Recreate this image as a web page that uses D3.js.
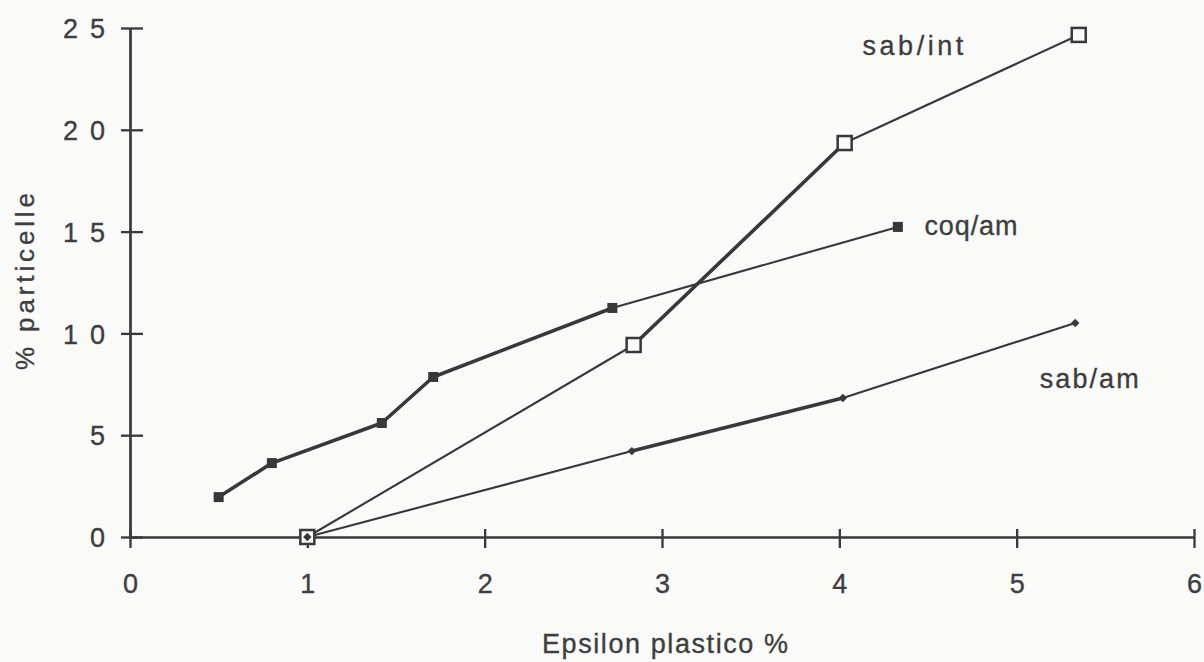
<!DOCTYPE html>
<html>
<head>
<meta charset="utf-8">
<script src="https://cdn.jsdelivr.net/npm/d3@7/dist/d3.min.js"></script>
<style>
  html, body { margin: 0; padding: 0; background: #fafaf8; }
  svg { display: block; }
  text { font-family: "Liberation Sans", Arial, Helvetica, sans-serif; fill: #3e3e3e; stroke: #3e3e3e; stroke-width: 0.35px; }
</style>
</head>
<body>
<svg id="chart" width="1204" height="662"></svg>
<script>
// ---- data ----
const xTicks = [0, 1, 2, 3, 4, 5, 6];
const yTicks = [0, 5, 10, 15, 20, 25];

const sabIntX = [1.0, 2.84, 4.03, 5.35];
const sabIntY = [0.0, 9.43, 19.35, 24.66];

const coqAmX = [0.50, 0.80, 1.42, 1.71, 2.72, 4.33];
const coqAmY = [1.96, 3.63, 5.60, 7.86, 11.25, 15.23];

const sabAmX = [1.0, 2.83, 4.02, 5.33];
const sabAmY = [0.0, 4.22, 6.83, 10.51];

const seriesNames = ["sab/int", "coq/am", "sab/am"];
const xTitle = "Epsilon plastico %";
const yTitle = "% particelle";

// ---- styles (kept apart from data) ----
const ink = "#383838";
const bg = "#fafaf8";
const thin = 2.1, thick = 3.6;
const fontPx = 27;
const styles = {
  "sab/int": { widths: [thin, thick, thin], marker: "open", label: { x: 4.13, y: 23.67, len: 101 } },
  "coq/am":  { widths: [thick, thick, thick, thick, thin], marker: "filled", label: { x: 4.48, y: 14.83, len: 93 } },
  "sab/am":  { widths: [thin, thick, thin], marker: "diamond", label: { x: 5.13, y: 7.32, len: 99 } }
};

const series = [
  { name: seriesNames[0], xs: sabIntX, ys: sabIntY },
  { name: seriesNames[1], xs: coqAmX, ys: coqAmY },
  { name: seriesNames[2], xs: sabAmX, ys: sabAmY }
];

// ---- scales ----
const svg = d3.select("#chart");
svg.append("rect").attr("width", 1204).attr("height", 662).attr("fill", bg);

const x = d3.scaleLinear().domain([0, 6]).range([130, 1194]);
const y = d3.scaleLinear().domain([0, 25]).range([537, 28]);

// ---- axes ----
const gx = svg.append("g")
  .attr("transform", `translate(0,${y(0)})`)
  .call(d3.axisBottom(x).tickValues(xTicks).tickSizeOuter(0).tickFormat(d3.format("d")));
gx.attr("font-size", null).attr("font-family", null);
gx.select(".domain").attr("stroke", ink).attr("stroke-width", 2.7);
gx.selectAll(".tick line").attr("stroke", ink).attr("stroke-width", 2.3).attr("y1", -8).attr("y2", 11);
gx.selectAll(".tick text")
  .attr("y", 37).attr("dy", "0.71em")
  .style("font-size", fontPx + "px").attr("fill", "#3e3e3e");

const gy = svg.append("g")
  .attr("transform", `translate(${x(0)},0)`)
  .call(d3.axisLeft(y).tickValues(yTicks).tickSizeOuter(0).tickFormat(d3.format("d")));
gy.attr("font-size", null).attr("font-family", null);
gy.select(".domain").attr("stroke", ink).attr("stroke-width", 2.7);
gy.selectAll(".tick line").attr("stroke", ink).attr("stroke-width", 2.3).attr("x1", -9).attr("x2", 13);
gy.selectAll(".tick text")
  .attr("x", -25).attr("dy", "0.36em")
  .style("font-size", fontPx + "px").attr("fill", "#3e3e3e")
  .each(function(d) {
    const s = String(d);
    if (s.length > 1) d3.select(this).attr("textLength", 42).attr("lengthAdjust", "spacing");
  });

// axis titles
svg.append("text")
  .attr("x", 542).attr("y", 653)
  .style("font-size", "27px")
  .attr("textLength", 246).attr("lengthAdjust", "spacing")
  .text(xTitle);

svg.append("text")
  .attr("transform", "translate(34,370) rotate(-90)")
  .style("font-size", "26px")
  .attr("textLength", 177).attr("lengthAdjust", "spacing")
  .text(yTitle);

// ---- series ----
series.forEach(s => {
  const st = styles[s.name];
  const pts = s.xs.map((v, i) => [v, s.ys[i]]);
  const segs = d3.pairs(pts);
  svg.append("g").selectAll("line").data(segs).join("line")
    .attr("x1", d => x(d[0][0])).attr("y1", d => y(d[0][1]))
    .attr("x2", d => x(d[1][0])).attr("y2", d => y(d[1][1]))
    .attr("stroke", ink)
    .attr("stroke-linecap", "round")
    .attr("stroke-width", (d, i) => st.widths[i]);
});

// markers drawn after all lines
series.forEach(s => {
  const st = styles[s.name];
  const pts = s.xs.map((v, i) => [v, s.ys[i]]);
  const g = svg.append("g");
  if (st.marker === "open") {
    g.selectAll("rect").data(pts).join("rect")
      .attr("x", d => x(d[0]) - 7).attr("y", d => y(d[1]) - 7)
      .attr("width", 14).attr("height", 14)
      .attr("fill", bg).attr("stroke", ink).attr("stroke-width", 2.5);
  } else if (st.marker === "filled") {
    g.selectAll("rect").data(pts).join("rect")
      .attr("x", d => x(d[0]) - 5).attr("y", d => y(d[1]) - 5)
      .attr("width", 10).attr("height", 10)
      .attr("fill", ink);
  } else {
    g.selectAll("path").data(pts).join("path")
      .attr("d", d3.symbol(d3.symbolDiamond2, 45)())
      .attr("transform", d => `translate(${x(d[0])},${y(d[1])})`)
      .attr("fill", ink);
  }
  svg.append("text")
    .attr("x", x(st.label.x)).attr("y", y(st.label.y))
    .style("font-size", "27px")
    .attr("textLength", st.label.len).attr("lengthAdjust", "spacing")
    .text(s.name);
});
</script>
</body>
</html>
